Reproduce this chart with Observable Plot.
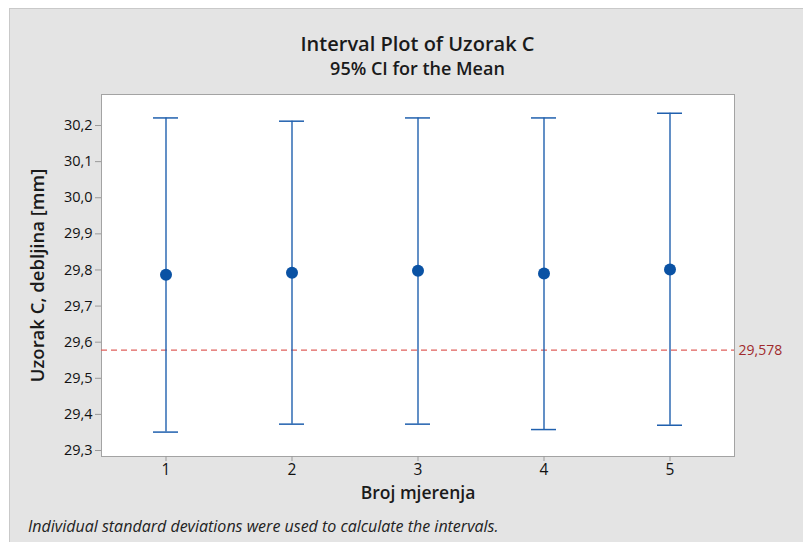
<!DOCTYPE html>
<html>
<head>
<meta charset="utf-8">
<script src="https://cdn.jsdelivr.net/npm/d3@7"></script>
<script src="https://cdn.jsdelivr.net/npm/@observablehq/plot@0.6"></script>
<style>
  html, body { margin: 0; padding: 0; background: #ffffff; width: 803px; height: 542px; overflow: hidden; }
  #panel { position: absolute; left: 9px; top: 8px; width: 794px; height: 534px; background: #e4e4e4;
           border-top: 1px solid #c9c9c9; border-left: 1px solid #c9c9c9; box-sizing: border-box; }
  .t { position: absolute; left: 101px; width: 633px; text-align: center; color: #1a1a1a;
       font-family: "Open Sans", "Noto Sans", sans-serif; font-weight: 600; white-space: nowrap; }
  #title { top: 32px; font-size: 20px; line-height: 24px; }
  #subtitle { top: 57px; font-size: 18px; line-height: 22px; }
  #chart { position: absolute; left: 0; top: 84px; }
  #caption { position: absolute; left: 28px; top: 515px; font-family: "Open Sans", "Noto Sans", sans-serif;
             font-style: italic; font-size: 16px; line-height: 22px; color: #222; white-space: nowrap; }
</style>
</head>
<body>
<div id="panel"></div>
<div id="title" class="t">Interval Plot of Uzorak C</div>
<div id="subtitle" class="t">95% CI for the Mean</div>
<div id="chart"></div>
<div id="caption">Individual standard deviations were used to calculate the intervals.</div>
<script>
// Data
const groups = [1, 2, 3, 4, 5];
const means  = [29.787, 29.792, 29.798, 29.790, 29.801];
const lower  = [29.351, 29.373, 29.373, 29.358, 29.370];
const upper  = [30.221, 30.212, 30.221, 30.221, 30.234];
const refValue = [29.578];
const yTicks = [29.3, 29.4, 29.5, 29.6, 29.7, 29.8, 29.9, 30.0, 30.1, 30.2];
const xLabel = ["Broj mjerenja"];
const yLabel = ["Uzorak C, debljina [mm]"];

const rows = groups.map((g, i) => ({g, mean: means[i], lo: lower[i], hi: upper[i]}));
const comma = v => v.toFixed(1).replace(".", ",");
const blue = "#2060ae";

const chart = Plot.plot({
  width: 803,
  height: 422,
  marginTop: 10,
  marginBottom: 50,
  marginLeft: 101,
  marginRight: 69,
  style: { background: "transparent", fontFamily: "Open Sans, Noto Sans, sans-serif", fontSize: "14px", color: "#111", overflow: "visible" },
  x: { type: "band", domain: groups, paddingInner: 0.8, paddingOuter: 0.4 },
  y: { domain: [29.2834, 30.2859] },
  marks: [
    Plot.frame({ fill: "white", stroke: "#a3a3a3" }),
    Plot.axisY({ ticks: yTicks, tickSize: 6, tickPadding: 3, tickFormat: comma, label: null,
                 stroke: "#9a9a9a", fill: "#111", fontSize: 14.5 }),
    Plot.axisX({ tickSize: 5, tickPadding: 2, label: null, stroke: "#9a9a9a", fill: "#111", fontSize: 15.5 }),
    Plot.ruleY(refValue, { stroke: "#e0605c", strokeWidth: 1.4, strokeDasharray: "6,4" }),
    Plot.text(refValue, { y: d => d, frameAnchor: "right", textAnchor: "start", dx: 4,
                          text: d => d.toFixed(3).replace(".", ","), fill: "#a02a2c", fontSize: 14 }),
    Plot.ruleX(rows, { x: "g", y1: "lo", y2: "hi", stroke: blue, strokeWidth: 1.4 }),
    Plot.tickY(rows, { x: "g", y: "hi", stroke: blue, strokeWidth: 1.5 }),
    Plot.tickY(rows, { x: "g", y: "lo", stroke: blue, strokeWidth: 1.5 }),
    Plot.dot(rows, { x: "g", y: "mean", r: 6, fill: "#0a52a4", stroke: "none" }),
    Plot.text(xLabel, { frameAnchor: "bottom", dy: 37, lineAnchor: "middle", textAnchor: "middle",
                        fontSize: 17.5, fontWeight: 600, fill: "#1a1a1a" }),
    Plot.text(yLabel, { frameAnchor: "left", dx: -63, rotate: -90, textAnchor: "middle", lineAnchor: "middle",
                        fontSize: 18.5, fontWeight: 600, fill: "#1a1a1a" })
  ]
});
document.getElementById("chart").appendChild(chart);
</script>
</body>
</html>
